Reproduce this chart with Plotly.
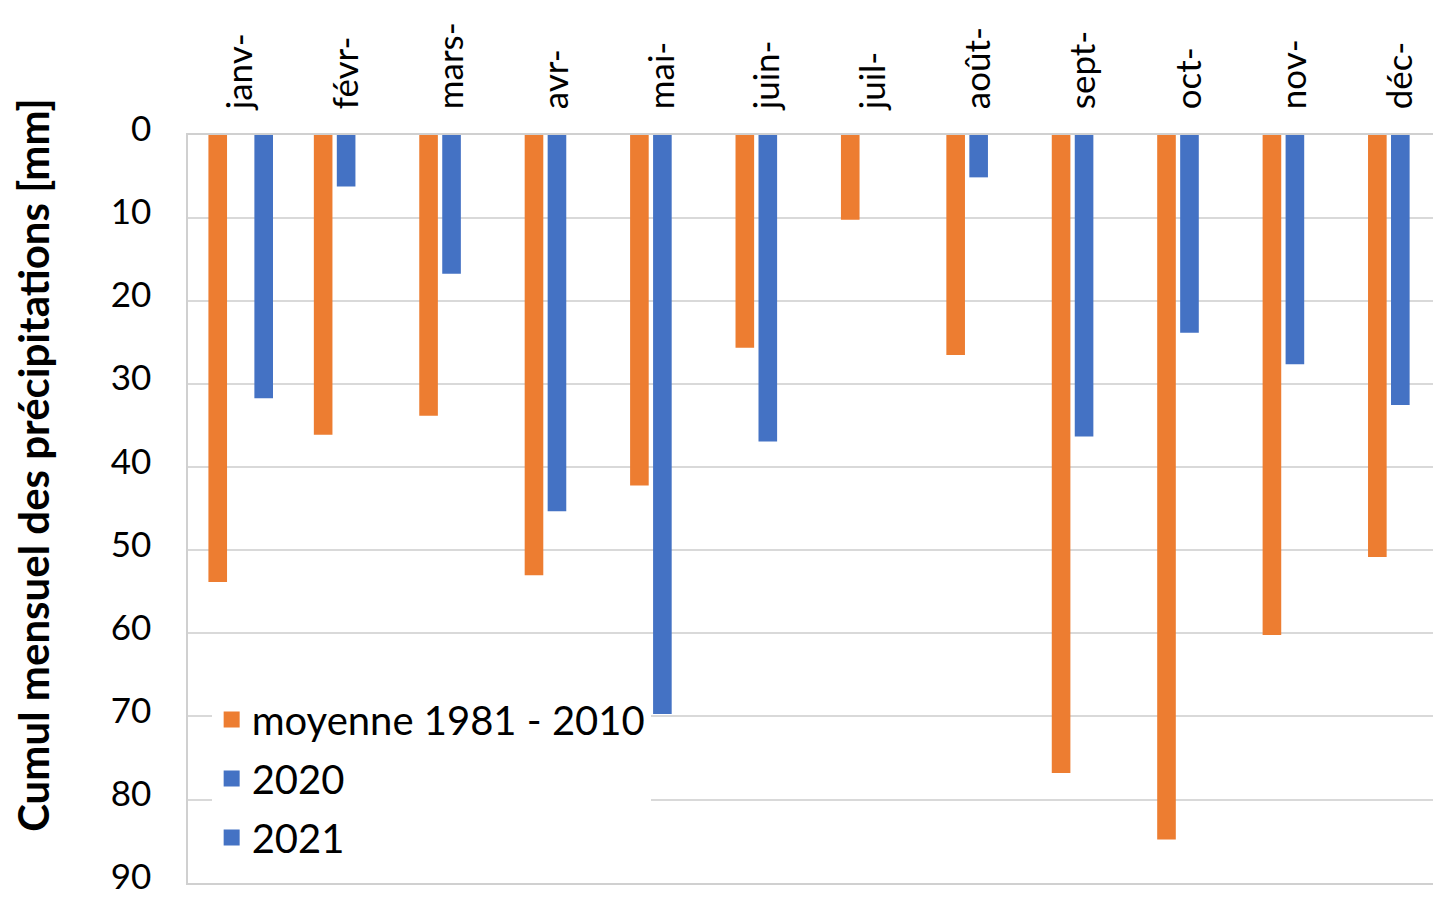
import plotly.graph_objects as go

months = ["janv-", "févr-", "mars-", "avr-", "mai-", "juin-",
          "juil-", "août-", "sept-", "oct-", "nov-", "déc-"]
moyenne = [53.8, 36.1, 33.8, 53.0, 42.2, 25.6, 10.2, 26.5, 76.8, 84.8, 60.2, 50.8]
v2020 = [None, 6.2, 16.7, 45.3, 69.7, 36.9, None, 5.1, 36.3, 23.8, 27.6, 32.5]
v2021 = [31.7, None, None, None, None, None, None, None, None, None, None, None]

series_names = ["moyenne 1981 - 2010", "2020", "2021"]
series_vals = [moyenne, v2020, v2021]
colors = ["#ED7D31", "#4472C4", "#4472C4"]
y_ticks = [0, 10, 20, 30, 40, 50, 60, 70, 80, 90]

FONT = "Lato"

fig = go.Figure()
for name, vals, c in zip(series_names, series_vals, colors):
    fig.add_trace(go.Bar(x=months, y=vals, name=name, marker_color=c,
                         marker_line_width=0, showlegend=False, hoverinfo="skip"))
# legend entries with larger square swatches
for i, (name, c) in enumerate(zip(series_names, colors)):
    fig.add_trace(go.Scatter(x=[None], y=[None], mode="markers", name=name,
                             marker=dict(symbol="square", size=20, color=c),
                             legendgroup=f"g{i}", showlegend=True))

fig.update_layout(
    width=1433, height=900,
    margin=dict(l=188, r=0, t=135, b=17, autoexpand=False),
    paper_bgcolor="white", plot_bgcolor="white",
    barmode="group", bargap=0.346, bargroupgap=0.19,
    font=dict(family=FONT, color="#000000", size=34),
    legend=dict(x=0.019, y=0.262, xanchor="left", yanchor="top",
                bgcolor="white", font=dict(size=40, family=FONT),
                tracegroupgap=4, itemwidth=30),
    xaxis=dict(side="top", tickangle=-90, range=[-0.5, 11.31],
               automargin=False,
               showgrid=False, showline=True, mirror=True, linecolor="#d0d0d0",
               linewidth=1.5, ticks="", ticklabelstandoff=17,
               tickfont=dict(size=35, family=FONT)),
    yaxis=dict(range=[90.05, 0], tickvals=y_ticks,
               showgrid=True, automargin=False, ticklabeloverflow="allow",
               gridcolor="#d9d9d9", gridwidth=1.5, zeroline=False,
               showline=True, linecolor="#d0d0d0", linewidth=1.5,
               ticks="", ticklabelstandoff=28, ticklabelshift=6,
               tickfont=dict(size=35, family=FONT)),
    annotations=[dict(text="<b>Cumul mensuel des précipitations [mm]</b>",
                      xref="paper", yref="paper", x=-0.1245, y=0.559,
                      xanchor="center", yanchor="middle", textangle=-90,
                      showarrow=False, font=dict(size=42, family=FONT))],
)

fig.write_html("out.html", config={"displayModeBar": False},
               post_script="document.body.style.margin='0';document.body.style.overflow='hidden';")
